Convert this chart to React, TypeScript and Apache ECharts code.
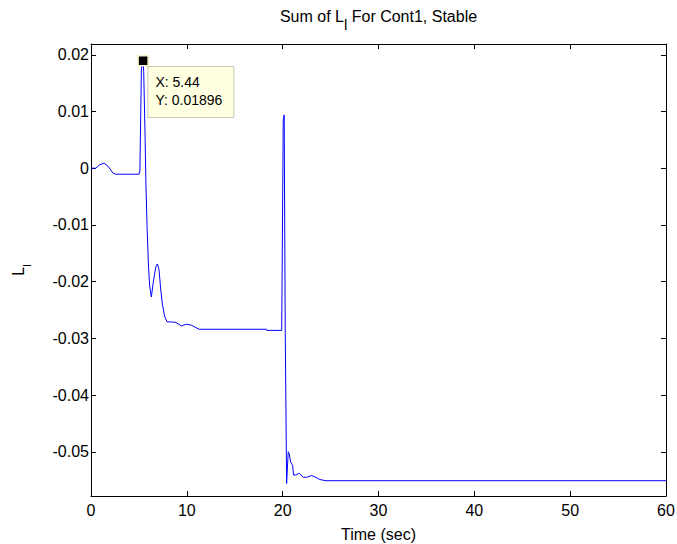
import React, { useEffect, useRef } from "react";
import * as echarts from "echarts";

const timeSec = [
  0, 0.5, 0.9, 1.36, 1.8, 2.3, 2.58, 5.02, 5.1, 5.26, 5.44, 5.5, 5.65, 5.72, 5.85, 6.0, 6.13, 6.3,
  6.48, 6.76, 6.93, 7.1, 7.28, 7.46, 7.7, 7.94, 8.4, 8.85, 9.44, 9.97, 10.49, 11.28, 18.32, 18.35,
  19.9, 20.06, 20.16, 20.2, 20.27, 20.41, 20.58, 20.68, 20.83, 21.04, 21.14, 21.38, 21.73, 22.15,
  22.5, 23.02, 23.47, 23.89, 24.52, 60,
];
const sumL = [
  0, 0, 0.0006, 0.0009, 0.0003, -0.0009, -0.00106, -0.00106, -0.0005, 0.0175, 0.01896, 0.017,
  0.005, -0.002, -0.0103, -0.0174, -0.0209, -0.0227, -0.0203, -0.0174, -0.0169, -0.0179, -0.0215,
  -0.0241, -0.0262, -0.0271, -0.0271, -0.0272, -0.0278, -0.0275, -0.0277, -0.0284, -0.0284,
  -0.0286, -0.0286, 0.0085, 0.0094, -0.0056, -0.029, -0.0556, -0.05, -0.0503, -0.0518, -0.0524,
  -0.0541, -0.0541, -0.0538, -0.0545, -0.0545, -0.0542, -0.0545, -0.0549, -0.0551, -0.0551,
];
const yTicks = [-0.05, -0.04, -0.03, -0.02, -0.01, 0, 0.01, 0.02];
const xRange = [0, 60];
const xStep = 10;
const dataTipX = 5.44;
const dataTipY = 0.01896;

const FONT = "'Liberation Sans', Arial, Helvetica, sans-serif";

export default function App() {
  const ref = useRef<HTMLDivElement>(null);
  useEffect(() => {
    document.body.style.margin = "0";
    if (!ref.current) return;
    const chart = echarts.init(ref.current, null, { renderer: "svg" });
    const fmtY = (v: number) => String(Number(v.toFixed(2)));
    const yMin = -0.0578;
    const yMax = 0.0219;
    const tickStyle = { show: true, inside: true, length: 5, lineStyle: { color: "#000", width: 1 } };
    const lineStyle = { show: true, onZero: false, lineStyle: { color: "#000", width: 1 } };
    const titleRich = {
      a: { fontSize: 16, color: "#000", fontFamily: FONT, lineHeight: 18 },
      s: { fontSize: 15, color: "#000", fontFamily: FONT, lineHeight: 18, padding: [16, 0, 0, 0] },
    };
    const nameRich = {
      a: { fontSize: 16, color: "#000", fontFamily: FONT, lineHeight: 18 },
      s: { fontSize: 11, color: "#000", fontFamily: FONT, lineHeight: 18, padding: [18, 0, 0, 0] },
    };
    chart.setOption({
      animation: false,
      backgroundColor: "#fff",
      textStyle: { fontFamily: FONT },
      title: {
        text: "{a|Sum of L}{s|l}{a| For Cont1, Stable}",
        left: 378.5,
        textAlign: "center",
        top: 7,
        padding: 0,
        textStyle: { fontWeight: "normal", rich: titleRich },
      },
      grid: { left: 91, right: 11, top: 44, bottom: 48, containLabel: false, outerBoundsMode: "none" },
      xAxis: [
        {
          type: "value",
          min: xRange[0],
          max: xRange[1],
          interval: xStep,
          name: "Time (sec)",
          nameLocation: "middle",
          nameGap: 30,
          nameTextStyle: { fontSize: 16, color: "#000", fontFamily: FONT },
          axisLine: lineStyle,
          axisTick: tickStyle,
          axisLabel: { fontSize: 16, color: "#000", margin: 6, fontFamily: FONT },
          splitLine: { show: false },
        },
        {
          type: "value",
          position: "top",
          min: xRange[0],
          max: xRange[1],
          interval: xStep,
          axisLine: lineStyle,
          axisTick: tickStyle,
          axisLabel: { show: false },
          splitLine: { show: false },
        },
      ],
      yAxis: [
        {
          type: "value",
          min: yMin,
          max: yMax,
          name: "{a|L}{s|l}",
          nameLocation: "middle",
          nameRotate: 90,
          nameGap: 64,
          nameTextStyle: { rich: nameRich },
          axisLine: lineStyle,
          axisTick: { ...tickStyle, customValues: yTicks },
          axisLabel: {
            fontSize: 16,
            color: "#000",
            margin: 2,
            fontFamily: FONT,
            customValues: yTicks,
            formatter: (v: number) => fmtY(v),
          },
          splitLine: { show: false },
        },
        {
          type: "value",
          position: "right",
          min: yMin,
          max: yMax,
          axisLine: lineStyle,
          axisTick: { ...tickStyle, customValues: yTicks },
          axisLabel: { show: false, customValues: yTicks },
          splitLine: { show: false },
        },
      ],
      series: [
        {
          type: "line",
          xAxisIndex: 0,
          yAxisIndex: 0,
          data: timeSec.map((t, i) => [t, sumL[i]]),
          showSymbol: false,
          symbol: "none",
          lineStyle: { color: "#0000ff", width: 1 },
          itemStyle: { color: "#0000ff" },
          markPoint: {
            symbol: "rect",
            symbolSize: 10,
            itemStyle: { color: "#000", borderColor: "#f6f2c4", borderWidth: 1.5 },
            data: [{ coord: [dataTipX, dataTipY] }],
            label: {
              show: true,
              position: [11, 12],
              align: "left",
              verticalAlign: "top",
              formatter: (p: any) => `X: ${p.data.coord[0]}\nY: ${p.data.coord[1]}`,
              fontSize: 14,
              color: "#000",
              fontFamily: FONT,
              lineHeight: 18,
              backgroundColor: "#ffffe1",
              borderColor: "#c8c8b4",
              borderWidth: 1,
              padding: [6, 6, 8, 7],
              width: 72,
            },
          },
        },
      ],
    });
    return () => chart.dispose();
  }, []);
  return <div ref={ref} style={{ width: 677, height: 544 }} />;
}
